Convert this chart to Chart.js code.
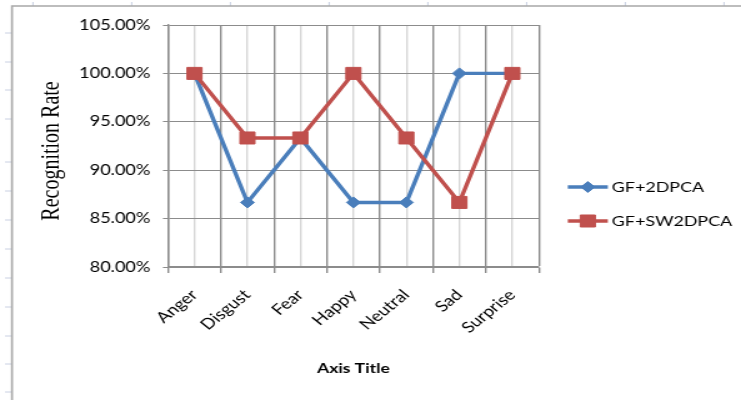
<!DOCTYPE html>
<html>
<head>
<meta charset="utf-8">
<script src="https://cdn.jsdelivr.net/npm/chart.js@4/dist/chart.umd.min.js"></script>
<style>
  html, body { margin: 0; padding: 0; background: #fff; overflow: hidden; }
  /* the chart is laid out narrower and widened to the full page width */
  #wrap { width: 593px; height: 400px; transform: scaleX(1.2496); transform-origin: 0 0; }
</style>
</head>
<body>
<div id="wrap"><canvas id="c" width="593" height="400"></canvas></div>
<script>
// Recognition rate per expression, in percent
const categories = ['Anger', 'Disgust', 'Fear', 'Happy', 'Neutral', 'Sad', 'Surprise'];
const gf2dpca    = [100, 86.67, 93.33, 86.67, 86.67, 100, 100];
const gfsw2dpca  = [100, 93.33, 93.33, 100, 93.33, 86.67, 100];
const seriesNames = ['GF+2DPCA', 'GF+SW2DPCA'];
const yTickLabels = ['80.00%', '85.00%', '90.00%', '95.00%', '100.00%', '105.00%'];
const yMin = 80, yMax = 105, yStep = 5;

const GRID = '#8c8c8c';
const MINOR = '#d6d6d6';

// Sheet-style frame behind the chart
const framePlugin = {
  id: 'frame',
  beforeDraw(chart) {
    const ctx = chart.ctx;
    const W = chart.width, H = chart.height;
    ctx.save();
    ctx.fillStyle = '#fff';
    ctx.fillRect(0, 0, W, H);
    ctx.strokeStyle = '#c9d0e2';
    ctx.lineWidth = 1;
    for (let x = 26.4; x < W; x += 79) {
      ctx.beginPath(); ctx.moveTo(x, 2); ctx.lineTo(x, 6); ctx.stroke();
    }
    [33, 62, 90, 119, 162, 191, 220, 249, 278, 307, 336, 364, 392].forEach(y => {
      ctx.beginPath(); ctx.moveTo(4, y); ctx.lineTo(9, y); ctx.stroke();
    });
    ctx.strokeStyle = '#a8a8a8';
    ctx.lineWidth = 1.6;
    ctx.beginPath();
    ctx.moveTo(9.6, H); ctx.lineTo(9.6, 6); ctx.lineTo(W, 6);
    ctx.stroke();
    ctx.restore();
  }
};

// Legend on the right: line sample with the series marker, then its name
const sideLegendPlugin = {
  id: 'sideLegend',
  afterDraw(chart) {
    const ctx = chart.ctx;
    const rows = [187, 221];
    const x0 = 454.4, x1 = 486.4, tx = 489.6;
    chart.data.datasets.forEach((ds, i) => {
      const y = rows[i];
      ctx.save();
      ctx.strokeStyle = ds.borderColor;
      ctx.lineWidth = ds.borderWidth;
      ctx.beginPath(); ctx.moveTo(x0, y); ctx.lineTo(x1, y); ctx.stroke();
      ctx.fillStyle = ds.pointBackgroundColor;
      ctx.strokeStyle = ds.pointBorderColor;
      ctx.lineWidth = ds.pointBorderWidth;
      Chart.helpers.drawPoint(ctx, {
        pointStyle: ds.pointStyle, radius: ds.pointRadius,
        borderWidth: ds.pointBorderWidth, rotation: 0
      }, (x0 + x1) / 2, y);
      ctx.fillStyle = '#000';
      ctx.font = '14.3px Lato';
      ctx.textBaseline = 'middle';
      ctx.textAlign = 'left';
      ctx.fillText(ds.label, tx, y);
      ctx.restore();
    });
  }
};

new Chart(document.getElementById('c'), {
  type: 'line',
  data: {
    labels: categories,
    datasets: [
      {
        label: seriesNames[0], data: gf2dpca, order: 1,
        borderColor: '#4a7ebb', backgroundColor: '#4a7ebb', borderWidth: 3.4,
        pointStyle: 'rectRot', pointRadius: 5.5,
        pointBackgroundColor: '#4a7ebb', pointBorderColor: '#4a7ebb', pointBorderWidth: 1,
        tension: 0, fill: false
      },
      {
        label: seriesNames[1], data: gfsw2dpca, order: 0,
        borderColor: '#c0504d', backgroundColor: '#c0504d', borderWidth: 3.4,
        pointStyle: 'rect', pointRadius: 8.5,
        pointBackgroundColor: '#c0504d', pointBorderColor: '#c0504d', pointBorderWidth: 1,
        tension: 0, fill: false
      }
    ]
  },
  options: {
    responsive: false,
    animation: false,
    devicePixelRatio: 1,
    layout: { padding: { left: 0, right: 161.8, top: 25, bottom: 0 } },
    plugins: { legend: { display: false }, tooltip: { enabled: false } },
    scales: {
      x: {
        type: 'category', offset: true, position: 'bottom',
        grid: { offset: true, color: GRID, lineWidth: 1.4, tickLength: 6, drawTicks: true },
        border: { display: true, color: GRID, width: 1.4 },
        ticks: { color: '#000', font: { family: 'Lato', size: 15 }, minRotation: 45, maxRotation: 45, padding: 13, autoSkip: false },
        title: { display: true, text: 'Axis Title', color: '#000', font: { family: 'Lato', size: 14, weight: 'bold' }, padding: { top: 0, bottom: 23.6 } },
        afterFit(scale) { scale.height = 133; }
      },
      x2: {
        type: 'category', offset: true, position: 'bottom',
        grid: { offset: false, color: MINOR, lineWidth: 1.4, drawTicks: false, tickLength: 0 },
        border: { display: false },
        ticks: { display: false },
        afterFit(scale) { scale.height = 0; }
      },
      y: {
        type: 'linear', min: yMin, max: yMax,
        grid: { color: GRID, lineWidth: 1, tickLength: 4 },
        border: { display: true, color: GRID, width: 1.4 },
        ticks: {
          stepSize: yStep, color: '#000', font: { family: 'Lato', size: 14.5 }, padding: 10,
          callback: (v, i) => yTickLabels[i]
        },
        title: { display: true, text: 'Recognition Rate  ', color: '#000', font: { family: 'Liberation Serif', size: 20 }, padding: { top: 30, bottom: 0 } },
        afterFit(scale) { scale.width = 134.4; }
      }
    }
  },
  plugins: [framePlugin, sideLegendPlugin]
});
</script>
</body>
</html>
